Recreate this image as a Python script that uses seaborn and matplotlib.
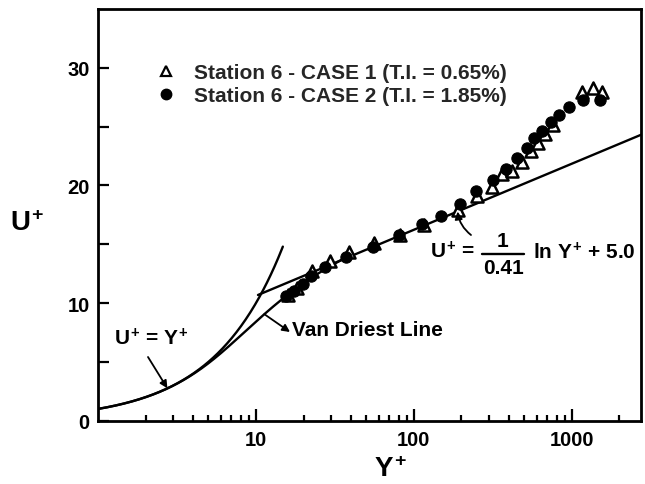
import numpy as np
import pandas as pd
import matplotlib
matplotlib.use("Agg")
import matplotlib.pyplot as plt
from matplotlib.lines import Line2D
import seaborn as sns

# Station 6 velocity profiles in wall units
yplus_case1 = [16.0, 18.2, 22.5, 29.5, 38.7, 55.6, 82.0, 116, 190, 250, 310, 359,
               415, 480, 553, 612, 680, 760, 1152, 1365, 1543]
uplus_case1 = [10.7, 11.3, 12.7, 13.6, 14.3, 15.1, 15.8, 16.6, 17.9, 19.1, 19.9, 21.0,
               21.2, 22.0, 22.9, 23.6, 24.4, 25.1, 27.95, 28.25, 27.95]
yplus_case2 = [15.6, 17.5, 19.8, 22.3, 27.2, 37.0, 55.0, 81.0, 113, 148, 196, 249,
               317, 383, 452, 517, 580, 650, 743, 835, 960, 1180, 1510]
uplus_case2 = [10.6, 11.0, 11.6, 12.3, 13.1, 13.9, 14.75, 15.75, 16.7, 17.4, 18.4, 19.5,
               20.5, 21.4, 22.3, 23.2, 24.0, 24.6, 25.4, 26.0, 26.7, 27.25, 27.25]

legend_labels = ["Station 6 - CASE 1 (T.I. = 0.65%)",
                 "Station 6 - CASE 2 (T.I. = 1.85%)"]
xtick_values = [10, 100, 1000]
xtick_labels = ["10", "100", "1000"]
ytick_values = [0, 10, 20, 30]

# law-of-the-wall constants
KAPPA = 0.41
B_CONST = 5.0
A_PLUS = 26.0
viscous_span = (1.0, 14.8)
log_span = (10.3, 2740.0)
van_driest_span = (1.0, 35.0)

sns.set_theme(style="ticks")
plt.rcParams["font.family"] = ["Liberation Sans", "DejaVu Sans"]
plt.rcParams["font.weight"] = "bold"
plt.rcParams["mathtext.fontset"] = "custom"
plt.rcParams["mathtext.rm"] = "Liberation Sans:bold"
plt.rcParams["mathtext.it"] = "Liberation Sans:bold"
plt.rcParams["mathtext.bf"] = "Liberation Sans:bold"

W, H = 645, 485
fig = plt.figure(figsize=(W / 100, H / 100), dpi=100)
fig.patch.set_facecolor("white")
ax = fig.add_axes([98 / W, 1 - 421.7 / H, (641 - 98) / W, (421.7 - 10) / H])
ax.set_facecolor("white")


def fpx(x, y):
    """Top-left pixel position -> figure fraction."""
    return x / W, 1 - y / H


# theoretical profiles
y_visc = np.geomspace(*viscous_span, 200)
visc = pd.DataFrame({"y": y_visc, "u": y_visc})

y_log = np.geomspace(*log_span, 200)
loglaw = pd.DataFrame({"y": y_log, "u": np.log(y_log) / KAPPA + B_CONST})

y_fine = np.linspace(0.0, van_driest_span[1], 20001)
mix_len = KAPPA * y_fine * (1 - np.exp(-y_fine / A_PLUS))
dudy = 2.0 / (1.0 + np.sqrt(1.0 + 4.0 * mix_len ** 2))
u_vd = np.concatenate([[0.0], np.cumsum(0.5 * (dudy[1:] + dudy[:-1]) * np.diff(y_fine))])
keep = y_fine >= van_driest_span[0]
vandriest = pd.DataFrame({"y": y_fine[keep], "u": u_vd[keep]})

line_kw = dict(color="black", linewidth=1.7, estimator=None, sort=False, legend=False, ax=ax)
sns.lineplot(data=visc, x="y", y="u", **line_kw)
sns.lineplot(data=loglaw, x="y", y="u", **line_kw)
sns.lineplot(data=vandriest, x="y", y="u", **line_kw)

case1 = pd.DataFrame({"y": yplus_case1, "u": uplus_case1})
case2 = pd.DataFrame({"y": yplus_case2, "u": uplus_case2})
sns.scatterplot(data=case1, x="y", y="u", marker="^", s=75, facecolor="white",
                edgecolor="black", linewidth=1.8, zorder=3, legend=False, ax=ax)
sns.scatterplot(data=case2, x="y", y="u", marker="o", s=66, color="black",
                edgecolor="black", linewidth=0.8, zorder=4, legend=False, ax=ax)

ax.set_xscale("log")
ax.set_xlim(1, 2740)
ax.set_ylim(0, 35)
ax.set_xticks(xtick_values)
ax.set_xticklabels(xtick_labels)
ax.set_yticks(ytick_values)
ax.set_yticks([5, 15, 25], minor=True)
ax.tick_params(which="both", direction="in", top=False, right=False,
               colors="black", labelsize=14.5, width=1.6)
ax.tick_params(axis="x", which="major", length=9, pad=7)
ax.tick_params(axis="x", which="minor", length=4)
ax.tick_params(axis="y", which="both", length=8, pad=6)
for lab in ax.get_xticklabels() + ax.get_yticklabels():
    lab.set_fontweight("bold")
for sp in ax.spines.values():
    sp.set_visible(True)
    sp.set_color("black")
    sp.set_linewidth(2.0)
ax.set_xlabel("")
ax.set_ylabel("")

# axis titles
fig.text(*fpx(27, 224), r"$U^{+}$", fontsize=20, ha="center", va="center", color="black")
fig.text(*fpx(390, 470), r"$Y^{+}$", fontsize=20, ha="center", va="center", color="black")

# legend
handles = [Line2D([], [], marker="^", linestyle="none", markerfacecolor="white",
                  markeredgecolor="black", markersize=7.5, markeredgewidth=1.6),
           Line2D([], [], marker="o", linestyle="none", markerfacecolor="black",
                  markeredgecolor="black", markersize=7.5)]
ax.legend(handles, legend_labels, loc="upper left", bbox_to_anchor=fpx(156, 64),
          bbox_transform=fig.transFigure, frameon=False, fontsize=15,
          handlelength=0.95, handletextpad=0.85, labelspacing=0.2,
          borderpad=0, borderaxespad=0)

arrow = dict(arrowstyle="-|>", color="black", linewidth=1.3, mutation_scale=11,
             shrinkA=0, shrinkB=0)
txt_kw = dict(fontsize=15, color="black", va="center")

# viscous sublayer label
fig.text(*fpx(114, 339), r"$U^{+}$ = $Y^{+}$", ha="left", **txt_kw)
ax.annotate("", xy=(2.75, 2.75), xycoords="data",
            xytext=(148, H - 358), textcoords="figure pixels", arrowprops=arrow)

# Van Driest label, arrow running from the curve to the text
fig.text(*fpx(292, 330), "Van Driest Line", ha="left", **txt_kw)
ax.annotate("", xy=(290, H - 333), xycoords="figure pixels",
            xytext=(11.3, float(np.interp(11.3, vandriest["y"], vandriest["u"]))),
            textcoords="data", arrowprops=arrow)

# log-law label with stacked fraction
fig.text(*fpx(430, 252), r"$U^{+}$ =", ha="left", **txt_kw)
fig.text(*fpx(503, 242), "1", ha="center", **txt_kw)
fig.text(*fpx(503, 268), "0.41", ha="center", **txt_kw)
fig.add_artist(Line2D([482 / W, 524 / W], [1 - 255 / H, 1 - 255 / H],
                      transform=fig.transFigure, color="black", linewidth=1.7))
fig.text(*fpx(533, 253), r"ln $Y^{+}$ + 5.0", ha="left", **txt_kw)
y_tip = 189.0
ax.annotate("", xy=(y_tip, np.log(y_tip) / KAPPA + B_CONST), xycoords="data",
            xytext=(471, H - 236), textcoords="figure pixels",
            arrowprops=dict(arrow, connectionstyle="arc3,rad=-0.2"))

fig.savefig("out.png", dpi=100, facecolor="white")
